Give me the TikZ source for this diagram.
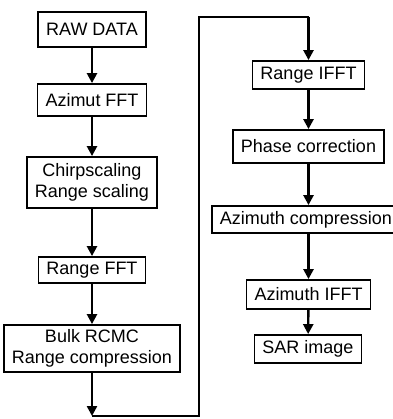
\documentclass[tikz,border=0pt]{standalone}
\usepackage{fontspec}
\setmainfont{Liberation Sans}
\usetikzlibrary{arrows.meta}

\begin{document}
\begin{tikzpicture}[x=1pt, y=-1pt,
    every node/.style = {shape=rectangle, draw, line width=1.8pt,
      align=center, font=\fontsize{18}{21}\selectfont,
      inner xsep=8pt, inner ysep=4pt, minimum height=28pt},
    flow/.style = {line width=2.4pt, -{Triangle[width=10pt,length=10pt]}},
    loop/.style = {line width=1.8pt}]
  \useasboundingbox (0,0) rectangle (392,419);
  % left column
  \node[minimum height=35pt] (raw)   at (92,29.5)  {RAW DATA};
  \node[minimum height=32pt] (azfft) at (92,100)   {Azimut FFT};
  \node[minimum height=51pt] (chirp) at (92,182.5) {Chirpscaling\\Range scaling};
  \node[minimum height=26pt] (rfft)  at (92,270)   {Range FFT};
  \node[minimum height=47pt] (bulk)  at (92,348.5) {Bulk RCMC\\Range compression};
  % right column
  \node (rifft)  at (308.5,75)  {Range IFFT};
  \node[minimum height=33pt] (phase) at (308.5,146.5) {Phase correction};
  \node[minimum height=27pt] (azcomp) at (306,219.5) {Azimuth compression};
  \node[minimum height=29pt] (azifft) at (308.5,294.5) {Azimuth IFFT};
  \node (sar)    at (308,349)   {SAR image};
  % loop between the columns
  \coordinate (bot) at (92,416);
  \coordinate (c1)  at (199,416);
  \coordinate (c2)  at (199,17);
  \coordinate (c3)  at (308.5,17);

  \draw[flow] (raw) -- (azfft);
  \draw[flow] (azfft) -- (chirp);
  \draw[flow] (chirp) -- (rfft);
  \draw[flow] (rfft) -- (bulk);
  \draw[flow] (bulk) -- (bot);
  \draw[loop] (bot) -- (c1) -- (c2) -- (c3);
  \draw[flow] (c3) -- (rifft);
  \draw[flow] (rifft) -- (phase);
  \draw[flow] (phase) -- (azcomp.north -| phase.south);
  \draw[flow] (azcomp.south -| azifft.north) -- (azifft);
  \draw[flow] (azifft) -- (sar);
\end{tikzpicture}
\end{document}
